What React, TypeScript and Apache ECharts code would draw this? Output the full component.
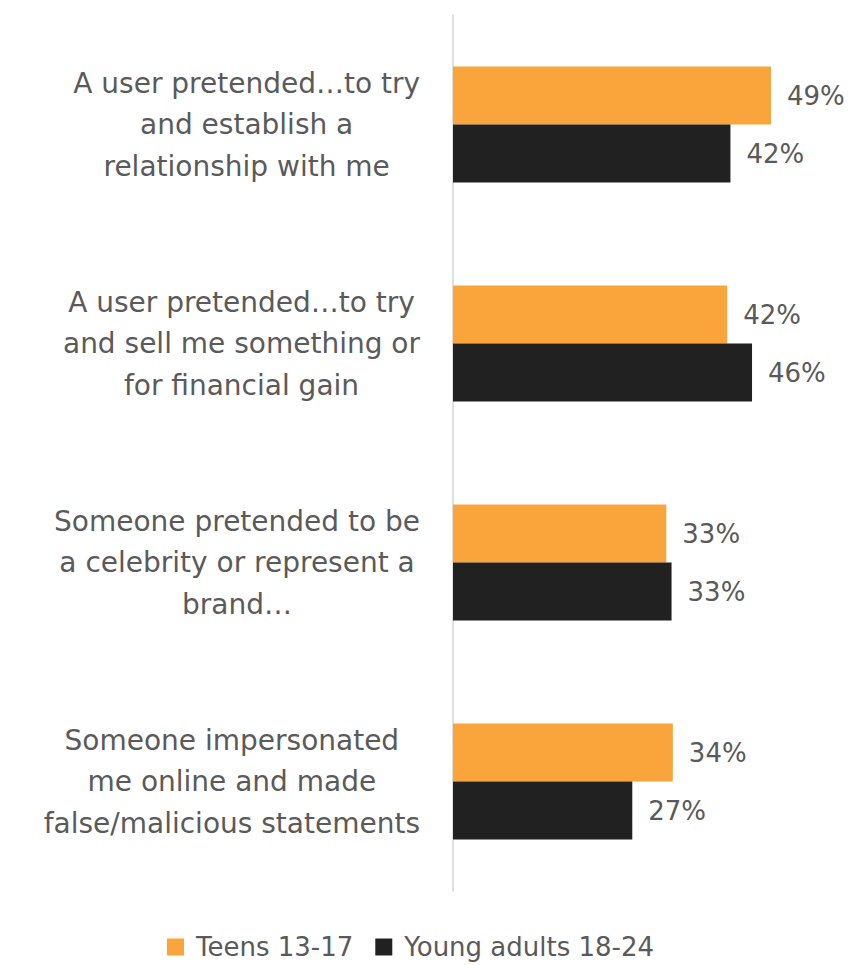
import React, { useEffect, useRef } from "react";
import * as echarts from "echarts";

const categories: string[][] = [
  ["A user pretended…to try", "and establish a", "relationship with me"],
  ["A user pretended…to try", "and sell me something or", "for financial gain"],
  ["Someone pretended to be", "a celebrity or represent a", "brand…"],
  ["Someone impersonated", "me online and made", "false/malicious statements"],
];
const seriesNames = ["Teens 13-17", "Young adults 18-24"];
const teens = [48.6, 41.9, 32.6, 33.6];
const youngAdults = [42.4, 45.7, 33.4, 27.4];

const ORANGE = "#FAA53C";
const DARK = "#212121";
const TEXT = "#5a5a5a";
const FONT = "DejaVu Sans";

export default function App() {
  const ref = useRef<HTMLDivElement>(null);
  useEffect(() => {
    if (!ref.current) return;
    const chart = echarts.init(ref.current, null, { renderer: "svg" });
    const labelCfg = {
      show: true,
      position: "right" as const,
      distance: 16,
      color: TEXT,
      fontFamily: FONT,
      fontSize: 26,
      formatter: (p: any) => Math.round(p.value) + "%",
    };
    chart.setOption({
      animation: false,
      backgroundColor: "#ffffff",
      textStyle: { fontFamily: FONT },
      grid: { left: 453, top: 15, width: 392.6, height: 876, containLabel: false },
      legend: {
        data: seriesNames,
        left: 167,
        top: 933,
        padding: 0,
        itemWidth: 17,
        itemHeight: 17,
        itemGap: 22,
        icon: "rect",
        textStyle: {
          color: TEXT,
          fontFamily: FONT,
          fontSize: 26,
          lineHeight: 28,
          padding: [0, 0, 0, 7],
        },
      },
      xAxis: {
        type: "value",
        min: 0,
        max: 60,
        show: false,
        splitLine: { show: false },
      },
      yAxis: {
        type: "category",
        inverse: true,
        data: categories.map((c) => c.join("\n")),
        axisLine: { show: true, lineStyle: { color: "#d4d4d4", width: 1.5 } },
        axisTick: { show: false },
        axisLabel: {
          margin: 33,
          align: "right",
          color: TEXT,
          fontFamily: FONT,
          fontSize: 28,
          lineHeight: 41.5,
          formatter: (v: string) =>
            v
              .split("\n")
              .map((l) => "{c|" + l + "}")
              .join("\n"),
          rich: {
            c: {
              align: "center",
              color: TEXT,
              fontFamily: FONT,
              fontSize: 28,
              lineHeight: 41.5,
            },
          },
        },
      },
      series: [
        {
          name: seriesNames[0],
          type: "bar",
          data: teens,
          barWidth: 58,
          barGap: "0%",
          itemStyle: { color: ORANGE },
          label: labelCfg,
        },
        {
          name: seriesNames[1],
          type: "bar",
          data: youngAdults,
          barWidth: 58,
          barGap: "0%",
          itemStyle: { color: DARK },
          label: labelCfg,
        },
      ],
    });
    return () => chart.dispose();
  }, []);
  return (
    <div
      ref={ref}
      style={{ position: "absolute", left: 0, top: 0, width: 856, height: 965 }}
    />
  );
}
